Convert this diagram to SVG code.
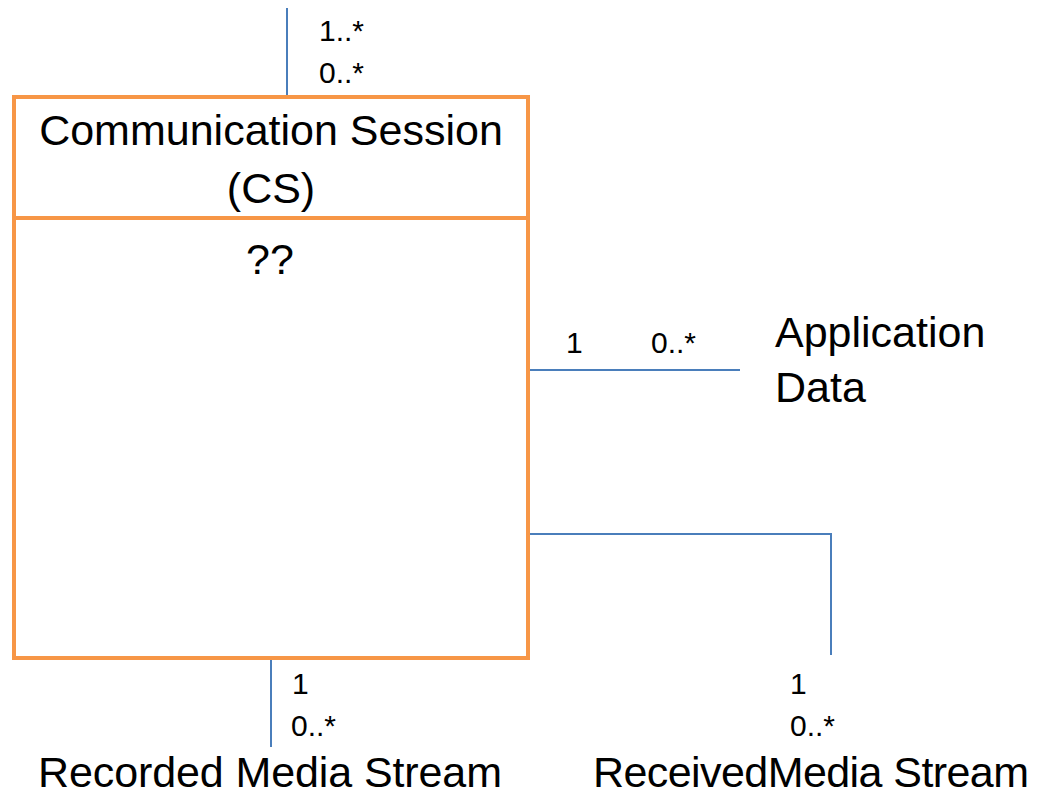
<svg xmlns="http://www.w3.org/2000/svg" width="1043" height="794" viewBox="0 0 1043 794">
<style>
.big{font-family:"Liberation Sans",Arial,sans-serif;font-size:43px;fill:#000}
.sm{font-family:"Liberation Sans",Arial,sans-serif;font-size:30px;fill:#000}
.box{fill:#fff;stroke:#F79646;stroke-width:4}
.con{fill:none;stroke:#4A7EBB;stroke-width:2}
</style>
<rect width="1043" height="794" fill="#fff"/>
<g id="connectors">
<path class="con" d="M287 8V96"/>
<path class="con" d="M528 370H740"/>
<path class="con" d="M528 534H831V655"/>
<path class="con" d="M271 659V747"/>
<text class="sm" x="319" y="41">1..*</text>
<text class="sm" x="319" y="83">0..*</text>
<text class="sm" x="566" y="353">1</text>
<text class="sm" x="651" y="353">0..*</text>
<text class="sm" x="292" y="694">1</text>
<text class="sm" x="291" y="736">0..*</text>
<text class="sm" x="790" y="694">1</text>
<text class="sm" x="790" y="736">0..*</text>
</g>
<g id="cs">
<rect class="box" x="14" y="97" width="514" height="561"/>
<line x1="14" y1="218" x2="528" y2="218" stroke="#F79646" stroke-width="4"/>
<text class="big" x="271" y="145" text-anchor="middle">Communication Session</text>
<text class="big" x="271" y="203" text-anchor="middle">(CS)</text>
<text class="big" x="270" y="274" text-anchor="middle">??</text>
</g>
<g id="appdata">
<text class="big" x="775" y="347">Application</text>
<text class="big" x="775" y="402">Data</text>
</g>
<g id="recorded">
<text class="big" x="38" y="787" textLength="464">Recorded Media Stream</text>
</g>
<g id="received">
<text class="big" x="593" y="787" textLength="436">ReceivedMedia Stream</text>
</g>
</svg>
